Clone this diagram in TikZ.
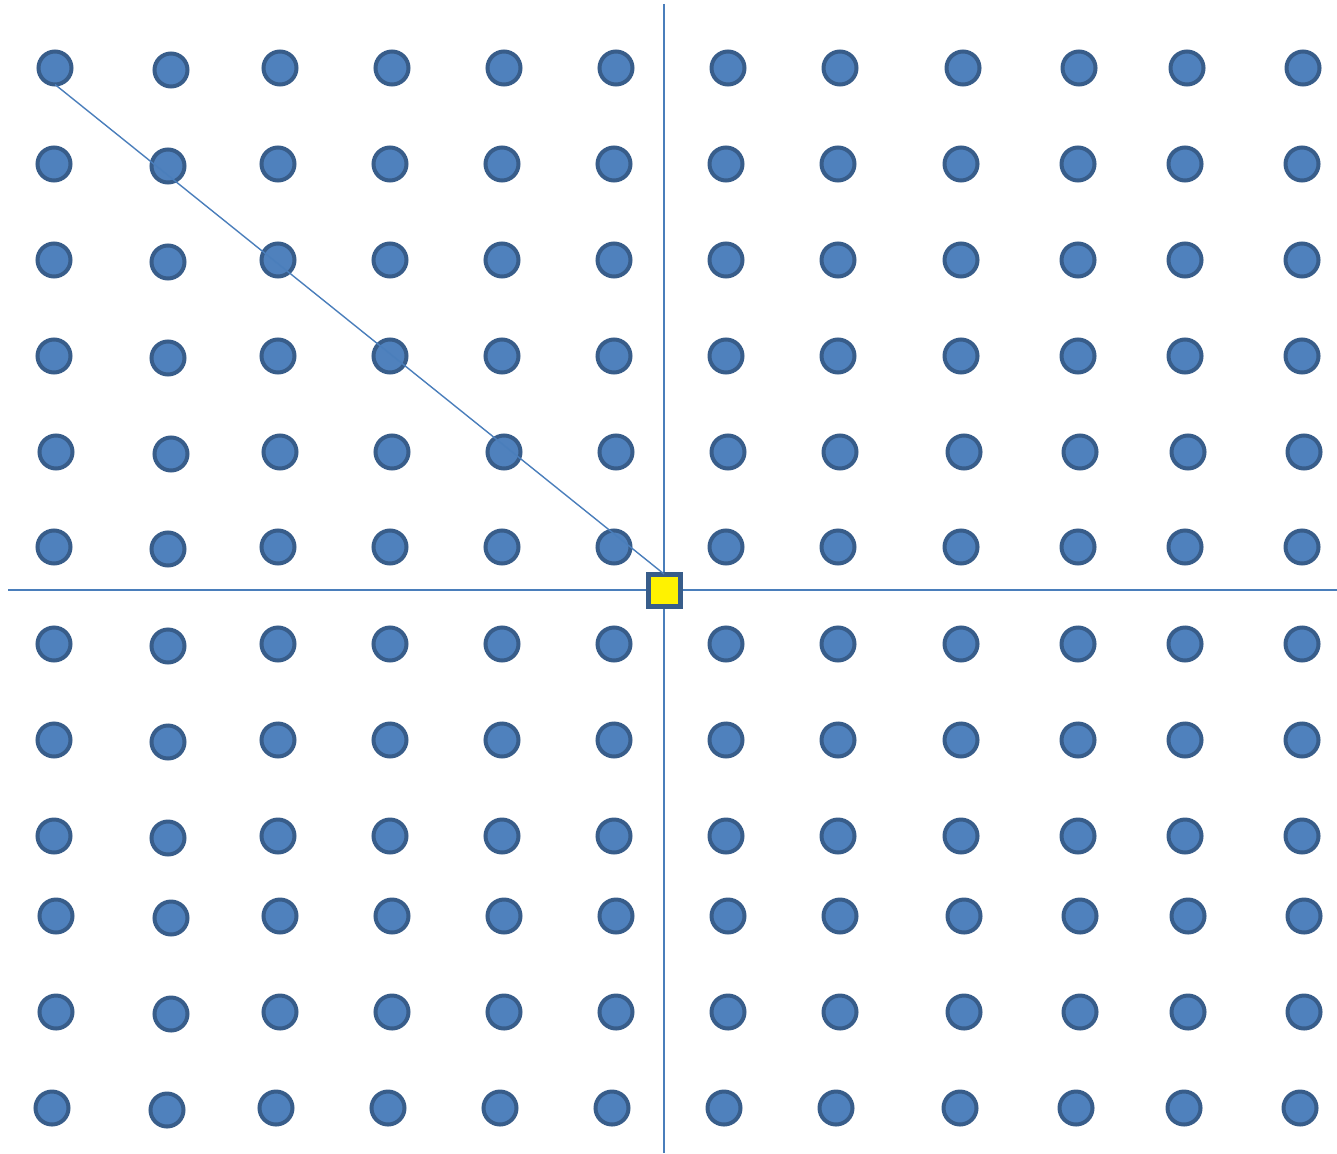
\documentclass[tikz,border=0pt]{standalone}
\definecolor{dotfill}{HTML}{4F81BD}
\definecolor{dotedge}{HTML}{385D8A}
\definecolor{axiscol}{HTML}{4A7EBB}
\begin{document}
\begin{tikzpicture}[x=1pt,y=-1pt,
  dot/.style={circle,fill=dotfill,draw=dotedge,line width=4pt,minimum size=33pt,inner sep=0pt,outer sep=0pt},
  origin/.style={rectangle,fill=yellow,draw=dotedge,line width=5pt,minimum size=32pt,inner sep=0pt,outer sep=0pt},
  axis/.style={draw=axiscol,line width=1.8pt},
  diag/.style={draw=axiscol,line width=1.4pt}]
\useasboundingbox (0,0) rectangle (1337,1153);
\def\rowA{55,171,280,392,504,616,728,840,963,1079,1187,1303}
\def\rowE{56,171,280,392,504,616,728,840,964,1080,1188,1304}
\def\rowB{54,168,278,390,502,614,726,838,961,1078,1185,1302}
\def\rowC{52,167,276,388,500,612,724,836,960,1076,1184,1300}
% axes
\coordinate (vtop) at (664,4);
\coordinate (vbot) at (664,1153);
\coordinate (hleft) at (8,590);
\coordinate (hright) at (1337,590);
\draw[axis] (vtop) -- (vbot);
\draw[axis] (hleft) -- (hright);
% dots
\foreach \r/\yy/\xs in {1/68/\rowA,2/164/\rowB,3/260/\rowB,4/356/\rowB,5/452/\rowE,6/547/\rowB,7/644/\rowB,8/740/\rowB,9/836/\rowB,10/916/\rowE,11/1012/\rowE,12/1108/\rowC}{
  \edef\xlist{\xs}
  \foreach \x [count=\c] in \xlist {
    \pgfmathsetmacro\dy{ifthenelse(\c==2,2,0)}
    \node[dot] (c-\r-\c) at (\x,\yy+\dy) {};
  }
}
% origin marker
\node[origin] (sq) at (664,590) {};
% diagonal
\draw[diag] (c-1-1.south) -- (sq.north);
\end{tikzpicture}
\end{document}
